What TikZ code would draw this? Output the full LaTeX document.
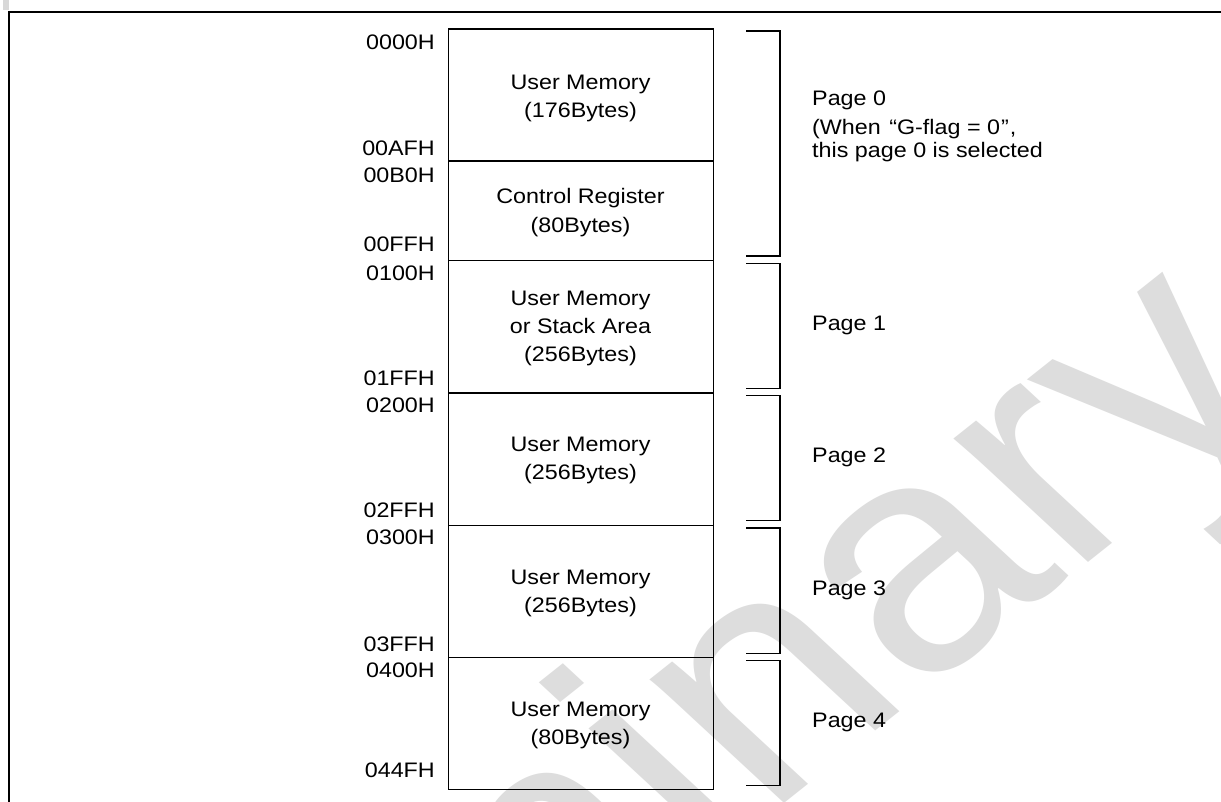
\documentclass[tikz,border=0pt]{standalone}
\usepackage{fontspec}
\setmainfont[FakeStretch=1.11]{Liberation Sans}
\newfontfamily\wmfont{Liberation Sans}
\definecolor{wmgray}{RGB}{221,221,221}
\definecolor{speck}{RGB}{216,216,216}
\tikzset{
  txt/.style={inner sep=0pt, font=\fontsize{21}{25}\selectfont},
  addr/.style={txt, anchor=base east},
  lbl/.style={txt, anchor=base},
  pg/.style={txt, anchor=base west},
  membox/.style={draw, line width=1.3pt, minimum width=265pt, anchor=north west, inner sep=0pt},
  brk/.style={line width=1.3pt},
  frame/.style={line width=2pt},
  wm/.style={inner sep=0pt, text=wmgray, font=\wmfont\fontsize{320}{320}\selectfont}
}
\begin{document}
\begin{tikzpicture}[x=1pt,y=-1pt]
\useasboundingbox (0,0) rectangle (1221,801);
\fill[white] (0,0) rectangle (1221,801);
% watermark
\begin{scope}
  \clip (0,0) rectangle (1221,801);
  \begin{scope}[xscale=1.165]
    \node[wm, transform shape, rotate=42.8, anchor=base east] (wmark) at (1114.2,395.6) {Preliminary};
  \end{scope}
\end{scope}
\fill[speck] (3,0) rectangle (8.5,10);
% frame
\draw[frame] (9,802) |- (1222,12);
% memory boxes
\node[membox, minimum height=132pt] (m1) at (448,28.3) {};
\node[membox, minimum height=99.2pt] (m2) at (448,160.3) {};
\node[membox, minimum height=132.8pt] (m3) at (448,259.5) {};
\node[membox, minimum height=132.4pt] (m4) at (448,392.3) {};
\node[membox, minimum height=132.3pt] (m5) at (448,524.7) {};
\node[membox, minimum height=132pt] (m6) at (448,657) {};
% box texts
\node[lbl] (t1a) at (580.5,89.5) {User Memory};
\node[lbl] (t1b) at (580.5,117.5) {(176Bytes)};
\node[lbl] (t2a) at (580.5,203.5) {Control Register};
\node[lbl] (t2b) at (580.5,232) {(80Bytes)};
\node[lbl] (t3a) at (580.5,305) {User Memory};
\node[lbl] (t3b) at (580.5,333) {or Stack Area};
\node[lbl] (t3c) at (580.5,361) {(256Bytes)};
\node[lbl] (t4a) at (580.5,451.5) {User Memory};
\node[lbl] (t4b) at (580.5,479.5) {(256Bytes)};
\node[lbl] (t5a) at (580.5,584) {User Memory};
\node[lbl] (t5b) at (580.5,612) {(256Bytes)};
\node[lbl] (t6a) at (580.5,716) {User Memory};
\node[lbl] (t6b) at (580.5,744) {(80Bytes)};
% addresses
\node[addr] (a1) at (435,49) {0000H};
\node[addr] (a2) at (435,155.5) {00AFH};
\node[addr] (a3) at (435,182.5) {00B0H};
\node[addr] (a4) at (435,251.5) {00FFH};
\node[addr] (a5) at (435,280) {0100H};
\node[addr] (a6) at (435,385.5) {01FFH};
\node[addr] (a7) at (435,412) {0200H};
\node[addr] (a8) at (435,517.5) {02FFH};
\node[addr] (a9) at (435,544) {0300H};
\node[addr] (a10) at (435,651) {03FFH};
\node[addr] (a11) at (435,677) {0400H};
\node[addr] (a12) at (435,777) {044FH};
% brackets
\draw[brk] (746,31) -| (780,256) -- (746,256);
\draw[brk] (746,263.3) -| (780,388.3) -- (746,388.3);
\draw[brk] (746,395.5) -| (780,520.8) -- (746,520.8);
\draw[brk] (746,528) -| (780,653.4) -- (746,653.4);
\draw[brk] (746,660.4) -| (780,785.8) -- (746,785.8);
% page labels
\node[pg] (p0) at (812,105) {Page 0};
\node[pg] (p0a) at (812,134) {(When \kern2pt“G-flag = 0\kern1pt”\kern1pt,};
\node[pg] (p0b) at (812,157) {this page 0 is selected};
\node[pg] (p1) at (812,330) {Page 1};
\node[pg] (p2) at (812,462) {Page 2};
\node[pg] (p3) at (812,595) {Page 3};
\node[pg] (p4) at (812,727) {Page 4};
\end{tikzpicture}
\end{document}
